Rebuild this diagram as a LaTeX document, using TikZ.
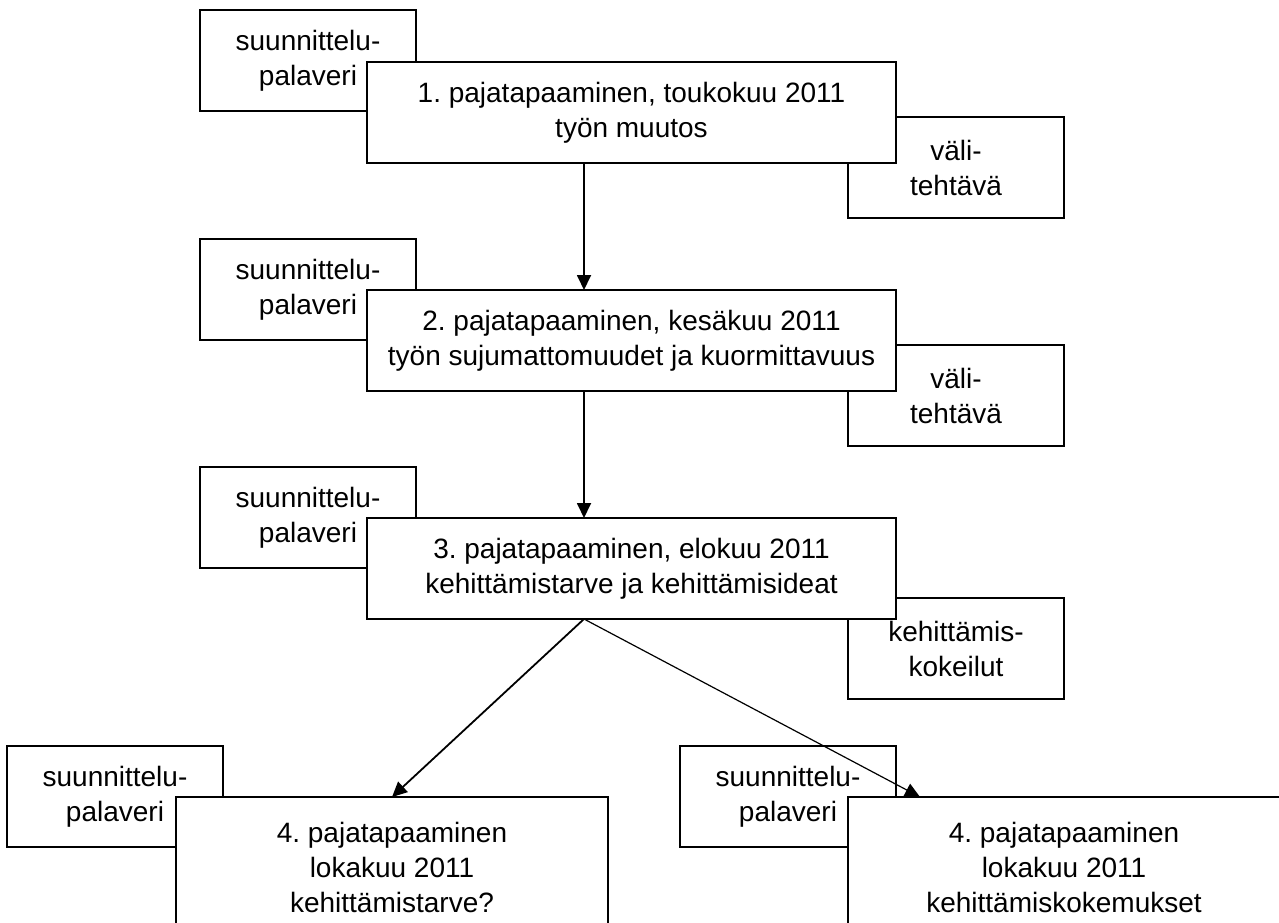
\documentclass[tikz,border=0pt]{standalone}
\usepackage{fontspec}
\setmainfont{Liberation Sans}
\usetikzlibrary{arrows.meta}
\frenchspacing

\begin{document}
\begin{tikzpicture}[x=1pt, y=-1pt, every node/.style={draw, fill=white, line width=1.8pt, rectangle, inner sep=0pt, outer sep=0pt, align=center, anchor=north west, font=\fontsize{28}{35}\selectfont},
  sidebox/.style={minimum width=216pt, minimum height=101pt},
  mainbox/.style={minimum width=529pt, minimum height=101pt},
  lastbox/.style={minimum width=432pt, minimum height=140pt},
  arr/.style={line width=1.8pt, -{Triangle[length=15pt, width=14pt]}}]
  \useasboundingbox (0,0) rectangle (1279,923);
  \clip (0,0) rectangle (1279,923);
  \fill[white] (0,0) rectangle (1279,923);
  \node[sidebox] (s1) at (200, 10) {suunnittelu-\\palaveri};
  \node[sidebox] (s2) at (200,239) {suunnittelu-\\palaveri};
  \node[sidebox] (s3) at (200,467) {suunnittelu-\\palaveri};
  \node[sidebox] (s4l) at (  7,746) {suunnittelu-\\palaveri};
  \node[sidebox] (s4r) at (680,746) {suunnittelu-\\palaveri};
  \node[sidebox] (v1) at (848,117) {väli-\\tehtävä};
  \node[sidebox] (v2) at (848,345) {väli-\\tehtävä};
  \node[sidebox] (v3) at (848,598) {kehittämis-\\kokeilut};
  \node[mainbox] (b1) at (367, 62) {1. pajatapaaminen, toukokuu 2011\\työn muutos};
  \node[mainbox] (b2) at (367,290) {2. pajatapaaminen, kesäkuu 2011\\työn sujumattomuudet ja kuormittavuus};
  \node[mainbox] (b3) at (367,518) {3. pajatapaaminen, elokuu 2011\\kehittämistarve ja kehittämisideat};
  \node[lastbox] (b4l) at (176,797) {4. pajatapaaminen\\lokakuu 2011\\kehittämistarve?};
  \node[lastbox] (b4r) at (848,797) {4. pajatapaaminen\\lokakuu 2011\\kehittämiskokemukset};
  \coordinate (d1) at ([xshift=217pt]b1.south west);
  \coordinate (d2) at ([xshift=217pt]b2.south west);
  \coordinate (d3) at ([xshift=217pt]b3.south west);
  \coordinate (e4) at ([xshift=72pt]b4r.north west);
  \draw[arr] (d1) -- (d1 |- b2.north);
  \draw[arr] (d2) -- (d2 |- b3.north);
  \draw[arr] (d3) -- (b4l.north);
  \draw[arr, line width=1.2pt] (d3) -- (e4);
\end{tikzpicture}
\end{document}
